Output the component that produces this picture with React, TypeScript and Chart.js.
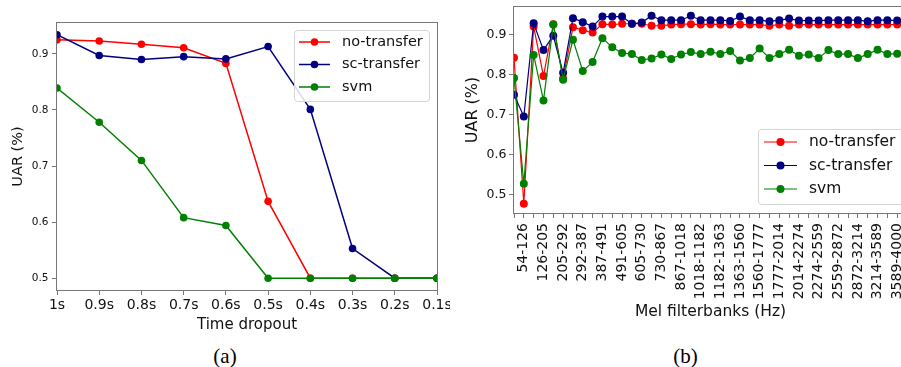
import React, { useEffect, useRef } from 'react';
import { Chart, registerables } from 'chart.js';

Chart.register(...registerables);

// ---------- data: (a) time dropout ----------
const timeLabels = ['1s', '0.9s', '0.8s', '0.7s', '0.6s', '0.5s', '0.4s', '0.3s', '0.2s', '0.1s'];
const timeNoTransfer = [0.925, 0.923, 0.917, 0.911, 0.883, 0.637, 0.5, 0.5, 0.5, 0.5];
const timeScTransfer = [0.934, 0.897, 0.89, 0.895, 0.891, 0.913, 0.801, 0.553, 0.5, 0.5];
const timeSvm = [0.839, 0.778, 0.71, 0.608, 0.594, 0.5, 0.5, 0.5, 0.5, 0.5];
const timeYTicks = [0.5, 0.6, 0.7, 0.8, 0.9];

// ---------- data: (b) mel filterbanks ----------
const melLabels = [
  '54-126', '126-205', '205-292', '292-387', '387-491', '491-605', '605-730', '730-867',
  '867-1018', '1018-1182', '1182-1363', '1363-1560', '1560-1777', '1777-2014', '2014-2274',
  '2274-2559', '2559-2872', '2872-3214', '3214-3589', '3589-4000',
];
const melNoTransfer = [
  0.843, 0.477, 0.921, 0.797, 0.927, 0.791, 0.919, 0.912, 0.906, 0.927,
  0.926, 0.928, 0.928, 0.928, 0.923, 0.923, 0.926, 0.927, 0.927, 0.926,
  0.927, 0.926, 0.926, 0.926, 0.926, 0.926, 0.923, 0.926, 0.923, 0.926,
  0.926, 0.926, 0.926, 0.926, 0.926, 0.926, 0.926, 0.926, 0.926, 0.926,
];
const melScTransfer = [
  0.75, 0.696, 0.929, 0.862, 0.898, 0.805, 0.942, 0.932, 0.921, 0.946,
  0.946, 0.946, 0.928, 0.931, 0.948, 0.937, 0.937, 0.937, 0.948, 0.937,
  0.937, 0.937, 0.935, 0.946, 0.937, 0.937, 0.934, 0.937, 0.941, 0.936,
  0.936, 0.936, 0.937, 0.937, 0.937, 0.937, 0.934, 0.937, 0.937, 0.936,
];
const melSvm = [
  0.792, 0.527, 0.85, 0.736, 0.926, 0.788, 0.888, 0.81, 0.832, 0.892,
  0.869, 0.855, 0.852, 0.837, 0.841, 0.851, 0.84, 0.851, 0.857, 0.852,
  0.858, 0.852, 0.86, 0.836, 0.842, 0.866, 0.842, 0.852, 0.863, 0.848,
  0.851, 0.842, 0.862, 0.852, 0.852, 0.842, 0.852, 0.863, 0.852, 0.853,
];
const melYTicks = [0.5, 0.6, 0.7, 0.8, 0.9];

// ---------- styles ----------
const FONT = "'DejaVu Sans', sans-serif";
const RED = '#ff0000';
const NAVY = '#000080';
const GREEN = '#008000';
const FRAME = '#777777';
const TEXT = '#111111';

const framePlugin = {
  id: 'frameBox',
  afterDatasetsDraw(chart: any) {
    const { ctx, chartArea: a } = chart;
    ctx.save();
    ctx.strokeStyle = FRAME;
    ctx.lineWidth = 1;
    ctx.strokeRect(
      Math.round(a.left) - 0.5,
      Math.round(a.top) - 0.5,
      Math.round(a.right - a.left) + 1,
      Math.round(a.bottom - a.top) + 1
    );
    ctx.restore();
  },
};

const legendPlugin = {
  id: 'insideLegend',
  afterDraw(chart: any, _args: any, o: any) {
    if (!o || !o.box) return;
    const { ctx } = chart;
    const [bx, by, bw, bh] = o.box;
    ctx.save();
    ctx.beginPath();
    ctx.roundRect(bx + 0.5, by + 0.5, bw, bh, 3);
    ctx.fillStyle = 'rgba(255,255,255,0.85)';
    ctx.fill();
    ctx.strokeStyle = '#d4d4d4';
    ctx.lineWidth = 1;
    ctx.stroke();
    chart.data.datasets.forEach((ds: any, i: number) => {
      const cy = by + o.firstRow + i * o.rowGap;
      ctx.strokeStyle = ds.borderColor;
      ctx.lineWidth = ds.borderWidth;
      ctx.beginPath();
      ctx.moveTo(bx + o.line[0], cy);
      ctx.lineTo(bx + o.line[1], cy);
      ctx.stroke();
      ctx.beginPath();
      ctx.arc(bx + (o.line[0] + o.line[1]) / 2, cy, o.radius, 0, Math.PI * 2);
      ctx.fillStyle = ds.borderColor;
      ctx.fill();
      ctx.fillStyle = TEXT;
      ctx.font = `${o.fontSize}px ${FONT}`;
      ctx.textBaseline = 'middle';
      ctx.textAlign = 'left';
      ctx.fillText(ds.label, bx + o.textX, cy);
    });
    ctx.restore();
  },
};

function ds(label: string, data: any[], color: string, order: number, lw: number, r: number) {
  return {
    label,
    data,
    borderColor: color,
    backgroundColor: color,
    pointBackgroundColor: color,
    pointBorderColor: color,
    pointBorderWidth: 0,
    pointRadius: r,
    borderWidth: lw,
    tension: 0,
    clip: 0,
    order,
  };
}

export default function App() {
  const leftRef = useRef<HTMLCanvasElement>(null);
  const rightRef = useRef<HTMLCanvasElement>(null);

  useEffect(() => {
    const tickGrid = { display: true, drawOnChartArea: false, tickLength: 5, color: FRAME };

    const c1 = new Chart(leftRef.current as HTMLCanvasElement, {
      type: 'line',
      data: {
        labels: timeLabels,
        datasets: [
          ds('no-transfer', timeNoTransfer, RED, 3, 1.5, 3.8),
          ds('sc-transfer', timeScTransfer, NAVY, 2, 1.5, 3.8),
          ds('svm', timeSvm, GREEN, 1, 1.5, 3.8),
        ] as any,
      },
      options: {
        animation: false,
        responsive: false,
        events: [],
        layout: { padding: { left: 0, top: 23, right: 33, bottom: 0 } },
        plugins: {
          legend: { display: false },
          tooltip: { enabled: false },
          insideLegend: {
            box: [294, 30, 135, 71],
            firstRow: 12,
            rowGap: 22.5,
            line: [5, 36],
            textX: 48,
            fontSize: 14.5,
            radius: 3.8,
          },
        } as any,
        scales: {
          x: {
            type: 'category',
            offset: false,
            grid: tickGrid,
            border: { display: false },
            ticks: {
              font: { family: FONT, size: 14 },
              color: TEXT,
              padding: 2,
              maxRotation: 0,
              autoSkip: false,
            },
            title: {
              display: true,
              text: 'Time dropout',
              font: { family: FONT, size: 15 },
              color: TEXT,
              padding: { top: 0, bottom: 6 },
            },
            afterFit: (s: any) => {
              s.height = 50;
              s.paddingLeft = 0;
              s.paddingRight = 0;
            },
          } as any,
          y: {
            type: 'linear',
            min: 0.479,
            max: 0.955,
            grid: tickGrid,
            border: { display: false },
            afterBuildTicks: (s: any) => {
              s.ticks = timeYTicks.map((v) => ({ value: v }));
            },
            ticks: {
              callback: (v: any) => Number(v).toFixed(1),
              font: { family: FONT, size: 10.5 },
              color: TEXT,
              padding: 3.5,
            },
            title: {
              display: true,
              text: 'UAR (%)',
              font: { family: FONT, size: 14.5 },
              color: TEXT,
              padding: { top: 9.5, bottom: 0 },
            },
            afterFit: (s: any) => {
              s.width = 57;
              s.paddingTop = 0;
              s.paddingBottom = 0;
            },
          } as any,
        },
      },
      plugins: [framePlugin, legendPlugin],
    });

    const toXY = (arr: number[]) => arr.map((y, i) => ({ x: i, y }));

    const c2 = new Chart(rightRef.current as HTMLCanvasElement, {
      type: 'line',
      data: {
        datasets: [
          ds('no-transfer', toXY(melNoTransfer), RED, 3, 1.2, 4),
          ds('sc-transfer', toXY(melScTransfer), NAVY, 2, 1.2, 4),
          ds('svm', toXY(melSvm), GREEN, 1, 1.2, 4),
        ] as any,
      },
      options: {
        animation: false,
        responsive: false,
        events: [],
        layout: { padding: { left: 0, top: 7, right: 33, bottom: 0 } },
        plugins: {
          legend: { display: false },
          tooltip: { enabled: false },
          insideLegend: {
            box: [308, 129, 146, 75],
            firstRow: 13,
            rowGap: 23.5,
            line: [6, 39],
            textX: 51,
            fontSize: 15.5,
            radius: 4,
          },
        } as any,
        scales: {
          x: {
            type: 'linear',
            min: 0,
            max: 40,
            grid: tickGrid,
            border: { display: false },
            afterBuildTicks: (s: any) => {
              s.ticks = melNoTransfer.map((_, i) => ({ value: i }));
            },
            ticks: {
              callback: (v: any) => {
                const i = Number(v);
                return i % 2 === 1 ? melLabels[(i - 1) / 2] : '';
              },
              font: { family: FONT, size: 14 },
              color: TEXT,
              padding: 5,
              minRotation: 90,
              maxRotation: 90,
              autoSkip: false,
            },
            title: {
              display: true,
              text: 'Mel filterbanks (Hz)',
              font: { family: FONT, size: 15.5 },
              color: TEXT,
              padding: { top: 0, bottom: 8.7 },
            },
            afterFit: (s: any) => {
              s.height = 117;
              s.paddingLeft = 0;
              s.paddingRight = 0;
            },
          } as any,
          y: {
            type: 'linear',
            min: 0.454,
            max: 0.97,
            grid: tickGrid,
            border: { display: false },
            afterBuildTicks: (s: any) => {
              s.ticks = melYTicks.map((v) => ({ value: v }));
            },
            ticks: {
              callback: (v: any) => Number(v).toFixed(1),
              font: { family: FONT, size: 12.5 },
              color: TEXT,
              padding: 2.5,
            },
            title: {
              display: true,
              text: 'UAR (%)',
              font: { family: FONT, size: 16 },
              color: TEXT,
              padding: { top: 12.9, bottom: 0 },
            },
            afterFit: (s: any) => {
              s.width = 64;
              s.paddingTop = 0;
              s.paddingBottom = 0;
            },
          } as any,
        },
      },
      plugins: [framePlugin, legendPlugin],
    });

    return () => {
      c1.destroy();
      c2.destroy();
    };
  }, []);

  const caption: React.CSSProperties = {
    position: 'absolute',
    top: 343,
    width: 100,
    textAlign: 'center',
    fontFamily: "'Liberation Serif', 'Times New Roman', serif",
    fontSize: 21,
    lineHeight: '26px',
    color: '#000',
  };

  return (
    <div
      style={{
        position: 'absolute',
        left: 0,
        top: 0,
        width: 901,
        height: 367,
        overflow: 'hidden',
        background: '#ffffff',
      }}
    >
      <div style={{ position: 'absolute', left: 0, top: 0, width: 450, height: 367, overflow: 'hidden' }}>
        <canvas ref={leftRef} width={470} height={340} style={{ position: 'absolute', left: 0, top: 0 }} />
      </div>
      <canvas ref={rightRef} width={490} height={330} style={{ position: 'absolute', left: 450, top: 0 }} />
      <div style={{ ...caption, left: 175 }}>(a)</div>
      <div style={{ ...caption, left: 635.5 }}>(b)</div>
    </div>
  );
}
